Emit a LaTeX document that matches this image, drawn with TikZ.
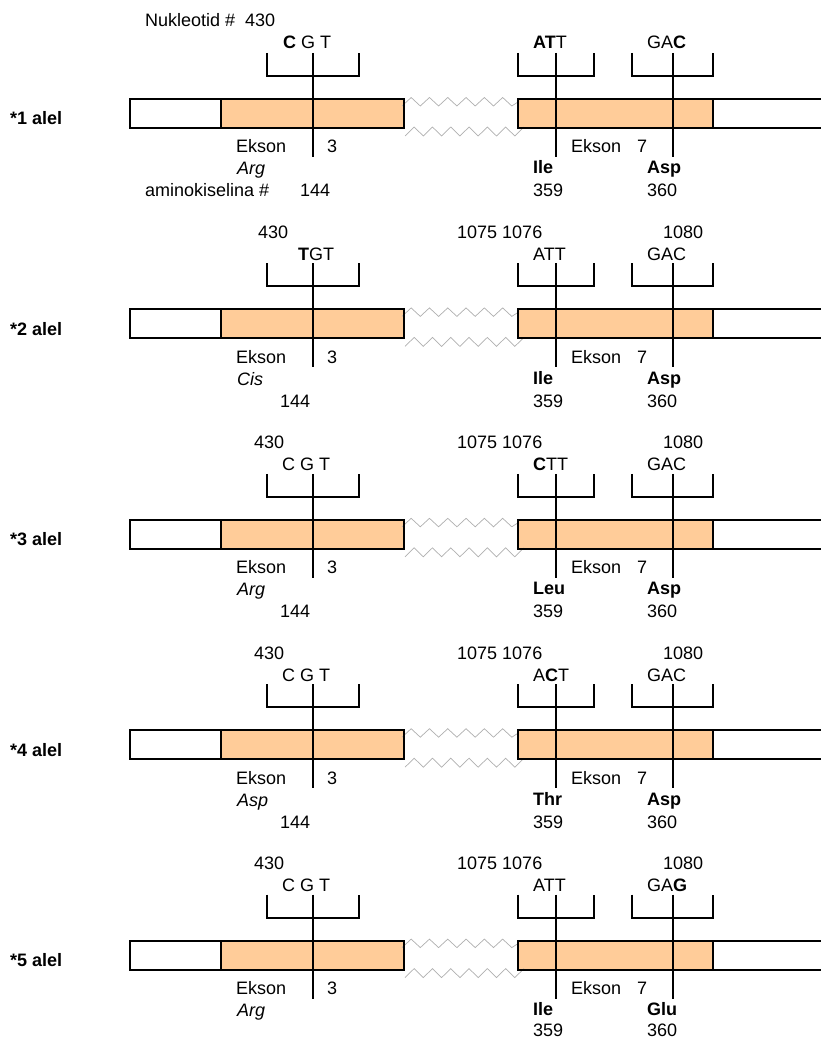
\documentclass[tikz,border=0pt]{standalone}
\usepackage{fontspec}
\setmainfont{Liberation Sans}
\definecolor{peach}{RGB}{255,204,153}
\definecolor{wavegray}{RGB}{175,175,175}
\tikzset{
  boxline/.style={line width=2.1pt},
  brk/.style={line width=2.1pt},
  wave/.style={wavegray, line width=0.7pt},
  lbl/.style={anchor=base west, inner sep=0pt, font=\fontsize{18}{21}\selectfont},
  bl/.style={anchor=base west, inner sep=0pt, font=\fontsize{18}{21}\selectfont\bfseries},
  il/.style={anchor=base west, inner sep=0pt, font=\fontsize{18}{21}\selectfont\itshape},
}
\newcommand{\genebody}{%
  \fill[peach] (221,0) rectangle (404,29);
  \fill[peach] (518,0) rectangle (713,29);
  \draw[wave] (402,7) \foreach \n in {1,...,12}{ -- ({402+9.15*\n},{2.75+4.25*cos(180*\n)}) } -- (518,3);
  \draw[wave] (405,37) \foreach \n in {1,...,13}{ -- ({405+9.15*\n},{32.5+4.5*cos(180*\n)}) };
  \draw[boxline] (130,0) rectangle (404,29);
  \draw[boxline] (221,0) -- (221,29);
  \draw[boxline] (824,0) -- (518,0) -- (518,29) -- (824,29);
  \draw[boxline] (713,0) -- (713,29);
  \draw[brk] (267,-46) -- (267,-23) -- (359,-23) -- (359,-46);
  \draw[brk] (313,-46) -- (313,58);
  \draw[brk] (518,-46) -- (518,-23) -- (594,-23) -- (594,-46);
  \draw[brk] (556,-46) -- (556,58);
  \draw[brk] (632,-46) -- (632,-23) -- (713,-23) -- (713,-46);
  \draw[brk] (673,-46) -- (673,58);
  \node[lbl] (ek3) at (236,54) {Ekson};
  \node[lbl] (ek3n) at (327,54) {3};
  \node[lbl] (ek7) at (571,54) {Ekson};
  \node[lbl] (ek7n) at (637,54) {7};
}
\begin{document}
\begin{tikzpicture}[x=1pt,y=-1pt]
\useasboundingbox (0,0) rectangle (820,1040);
% ---------- allele 1
\begin{scope}[shift={(0,99)}, name prefix=a1-]
  \genebody
  \node[bl] (name) at (10,26) {*1 alel};
  \node[lbl] (nuk) at (145,-72) {Nukleotid \#\ \ 430};
  \node[lbl] (c1) at (283,-50) {\textbf{C} G T};
  \node[lbl] (c2) at (533,-50) {\textbf{AT}T};
  \node[lbl] (c3) at (647,-50) {GA\textbf{C}};
  \node[il] (aa1) at (237,76) {Arg};
  \node[lbl] (amk) at (145,98) {aminokiselina \#};
  \node[lbl] (p1) at (300,98) {144};
  \node[bl] (aa2) at (533,75) {Ile};
  \node[lbl] (p2) at (533,98) {359};
  \node[bl] (aa3) at (647,75) {Asp};
  \node[lbl] (p3) at (647,98) {360};
\end{scope}
% ---------- allele 2
\begin{scope}[shift={(0,309.4)}, name prefix=a2-]
  \genebody
  \node[bl] (name) at (10,26) {*2 alel};
  \node[lbl] (n1) at (258,-71) {430};
  \node[lbl] (n2) at (457,-71) {1075 1076};
  \node[lbl] (n3) at (663,-71) {1080};
  \node[lbl] (c1) at (298,-49) {\textbf{T}GT};
  \node[lbl] (c2) at (533,-49) {ATT};
  \node[lbl] (c3) at (647,-49) {GAC};
  \node[il] (aa1) at (237,76) {Cis};
  \node[lbl] (p1) at (280,98) {144};
  \node[bl] (aa2) at (533,75) {Ile};
  \node[lbl] (p2) at (533,98) {359};
  \node[bl] (aa3) at (647,75) {Asp};
  \node[lbl] (p3) at (647,98) {360};
\end{scope}
% ---------- allele 3
\begin{scope}[shift={(0,519.8)}, name prefix=a3-]
  \genebody
  \node[bl] (name) at (10,26) {*3 alel};
  \node[lbl] (n1) at (254,-71) {430};
  \node[lbl] (n2) at (457,-71) {1075 1076};
  \node[lbl] (n3) at (663,-71) {1080};
  \node[lbl] (c1) at (282,-49) {C G T};
  \node[lbl] (c2) at (533,-49) {\textbf{C}TT};
  \node[lbl] (c3) at (647,-49) {GAC};
  \node[il] (aa1) at (237,76) {Arg};
  \node[lbl] (p1) at (280,98) {144};
  \node[bl] (aa2) at (533,75) {Leu};
  \node[lbl] (p2) at (533,98) {359};
  \node[bl] (aa3) at (647,75) {Asp};
  \node[lbl] (p3) at (647,98) {360};
\end{scope}
% ---------- allele 4
\begin{scope}[shift={(0,730.2)}, name prefix=a4-]
  \genebody
  \node[bl] (name) at (10,26) {*4 alel};
  \node[lbl] (n1) at (254,-71) {430};
  \node[lbl] (n2) at (457,-71) {1075 1076};
  \node[lbl] (n3) at (663,-71) {1080};
  \node[lbl] (c1) at (282,-49) {C G T};
  \node[lbl] (c2) at (533,-49) {A\textbf{C}T};
  \node[lbl] (c3) at (647,-49) {GAC};
  \node[il] (aa1) at (237,76) {Asp};
  \node[lbl] (p1) at (280,98) {144};
  \node[bl] (aa2) at (533,75) {Thr};
  \node[lbl] (p2) at (533,98) {359};
  \node[bl] (aa3) at (647,75) {Asp};
  \node[lbl] (p3) at (647,98) {360};
\end{scope}
% ---------- allele 5
\begin{scope}[shift={(0,940.6)}, name prefix=a5-]
  \genebody
  \node[bl] (name) at (10,26) {*5 alel};
  \node[lbl] (n1) at (254,-71) {430};
  \node[lbl] (n2) at (457,-71) {1075 1076};
  \node[lbl] (n3) at (663,-71) {1080};
  \node[lbl] (c1) at (282,-49) {C G T};
  \node[lbl] (c2) at (533,-49) {ATT};
  \node[lbl] (c3) at (647,-49) {GA\textbf{G}};
  \node[il] (aa1) at (237,76) {Arg};
  \node[bl] (aa2) at (533,75) {Ile};
  \node[lbl] (p2) at (533,96) {359};
  \node[bl] (aa3) at (647,75) {Glu};
  \node[lbl] (p3) at (647,96) {360};
\end{scope}
\end{tikzpicture}
\end{document}
